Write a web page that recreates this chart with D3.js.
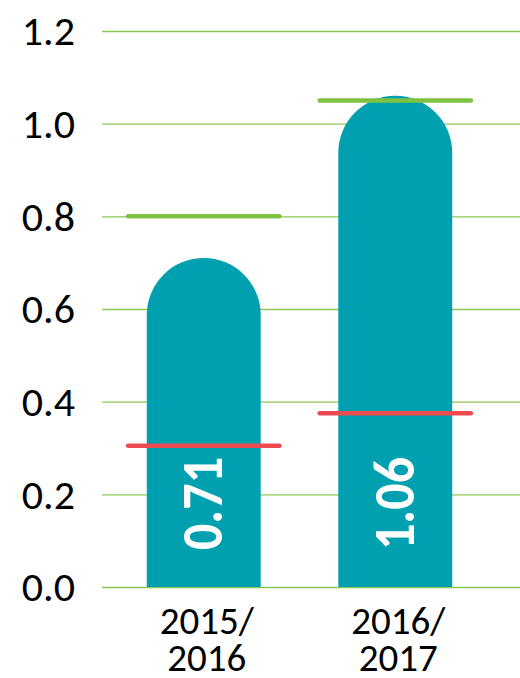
<!DOCTYPE html>
<html>
<head>
<meta charset="utf-8">
<script src="https://cdn.jsdelivr.net/npm/d3@7"></script>
<style>
  body { margin: 0; background: #fff; }
  svg { display: block; }
  text { font-family: Carlito, "Open Sans", sans-serif; }
</style>
</head>
<body>
<div id="container"></div>
<script>
// chart data
let categories = ["2015/2016", "2016/2017"];
let catLines = [["2015/", "2016"], ["2016/", "2017"]];
let values = [0.71, 1.06];
let upperMarks = [0.80, 1.05];   // green lines
let lowerMarks = [0.305, 0.375]; // red lines
let yTicks = [0, 0.2, 0.4, 0.6, 0.8, 1.0, 1.2];

let w = 520;
let h = 678;

let viz = d3.select("#container")
  .append("svg")
    .attr("width", w)
    .attr("height", h)
;

let yScale = d3.scaleLinear().domain([0, 1.2]).range([587, 31]);
let xScale = d3.scaleBand()
  .domain(categories)
  .range([108, 491])
  .paddingInner(0.405)
  .paddingOuter(0.2025)
;
let bw = xScale.bandwidth();
let step = xScale.step();
function cx(i){ return xScale(categories[i]) + bw / 2; }

// gridlines + tick labels
let yAxis = d3.axisLeft(yScale)
  .tickValues(yTicks)
  .tickFormat(d3.format(".1f"))
  .tickSize(-(w - 102))
  .tickPadding(27)
;
let yAxisGroup = viz.append("g")
  .attr("class", "yaxisgroup")
  .attr("transform", "translate(102,0)")
  .call(yAxis)
;
yAxisGroup.select(".domain").remove();
yAxisGroup.selectAll(".tick line")
  .attr("stroke", "#8cc852")
  .attr("stroke-width", 1.4)
;
yAxisGroup.selectAll(".tick text")
  .attr("fill", "#000")
  .style("font-size", "42px")
  .attr("dy", "0.33em")
;

// bars with rounded tops
function barPath(d, i){
  let x0 = xScale(categories[i]);
  let x1 = x0 + bw;
  let r = bw / 2;
  let y0 = yScale(0);
  let yTop = yScale(d) + r;
  return "M" + x0 + "," + y0 +
    "L" + x0 + "," + yTop +
    "A" + r + "," + r + " 0 0 1 " + x1 + "," + yTop +
    "L" + x1 + "," + y0 + "Z";
}

viz.append("g").selectAll("path").data(values).enter()
  .append("path")
    .attr("d", barPath)
    .attr("fill", "#00a0b0")
;

// value labels inside the bars
viz.append("g").selectAll("text").data(values).enter()
  .append("text")
    .attr("transform", function(d, i){
      return "translate(" + cx(i) + "," + (yScale(0) - 37) + ") rotate(-90)";
    })
    .attr("dy", "0.32em")
    .attr("fill", "#fff")
    .style("font-size", "58px")
    .style("font-weight", "bold")
    .attr("textLength", 93)
    .attr("lengthAdjust", "spacingAndGlyphs")
    .text(function(d){ return d.toFixed(2); })
;

// marker lines
let lineW = step * 0.79;
function drawMarks(data, color){
  viz.append("g").selectAll("line").data(data).enter()
    .append("line")
      .attr("x1", function(d, i){ return cx(i) - lineW / 2; })
      .attr("x2", function(d, i){ return cx(i) + lineW / 2; })
      .attr("y1", function(d){ return yScale(d); })
      .attr("y2", function(d){ return yScale(d); })
      .attr("stroke", color)
      .attr("stroke-width", 4.5)
      .attr("stroke-linecap", "round")
  ;
}
drawMarks(upperMarks, "#7dc242");
drawMarks(lowerMarks, "#ee4b50");

// category labels
let catGroup = viz.append("g").selectAll("text").data(catLines).enter()
  .append("text")
    .attr("text-anchor", "middle")
    .attr("fill", "#000")
    .style("font-size", "39px")
;
catGroup.each(function(lines, i){
  let t = d3.select(this);
  lines.forEach(function(s, j){
    t.append("tspan")
      .attr("x", cx(i) + 3)
      .attr("y", 634 + j * 37)
      .text(s);
  });
});
</script>
</body>
</html>
